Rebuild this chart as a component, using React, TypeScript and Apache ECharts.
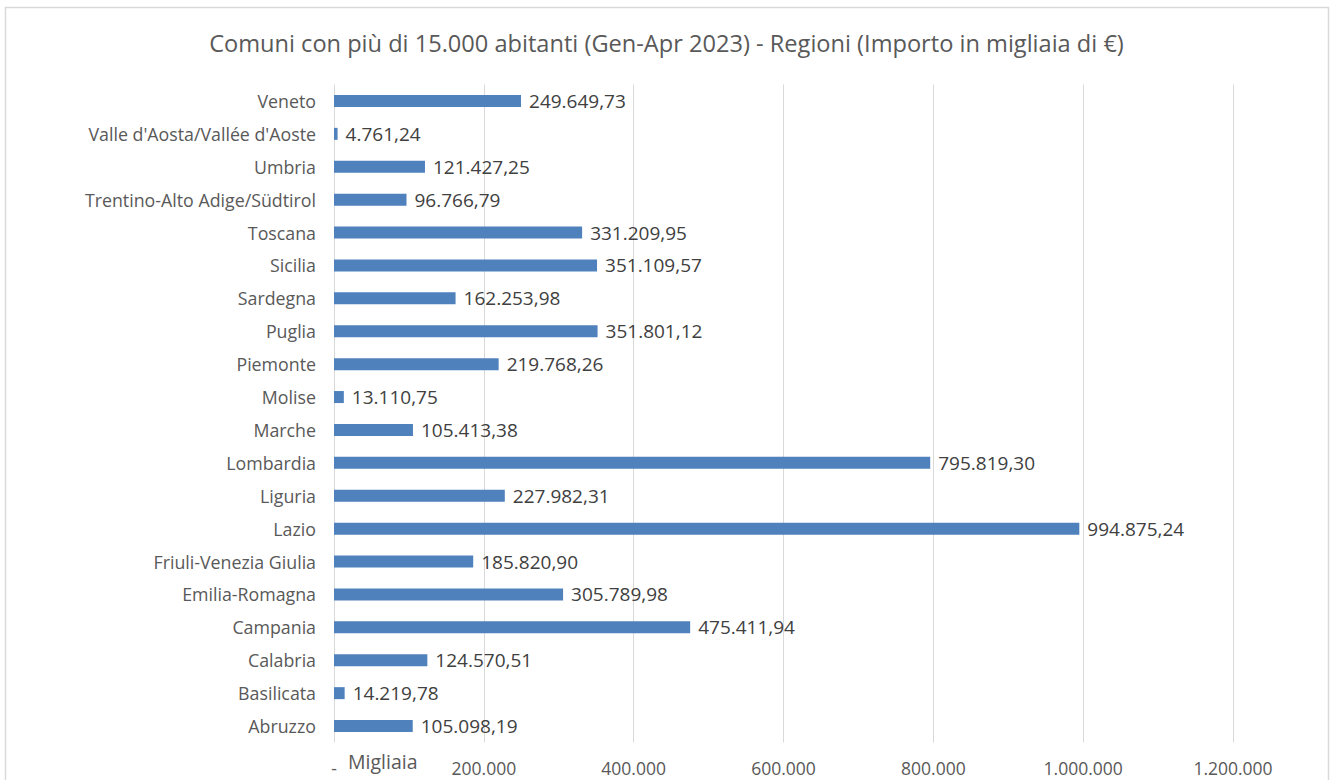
import React, { useEffect, useRef } from "react";
import * as echarts from "echarts";

const categories = [
  "Abruzzo",
  "Basilicata",
  "Calabria",
  "Campania",
  "Emilia-Romagna",
  "Friuli-Venezia Giulia",
  "Lazio",
  "Liguria",
  "Lombardia",
  "Marche",
  "Molise",
  "Piemonte",
  "Puglia",
  "Sardegna",
  "Sicilia",
  "Toscana",
  "Trentino-Alto Adige/Südtirol",
  "Umbria",
  "Valle d'Aosta/Vallée d'Aoste",
  "Veneto",
];

const values = [
  105098.19, 14219.78, 124570.51, 475411.94, 305789.98, 185820.9, 994875.24,
  227982.31, 795819.3, 105413.38, 13110.75, 219768.26, 351801.12, 162253.98,
  351109.57, 331209.95, 96766.79, 121427.25, 4761.24, 249649.73,
];

const titleText =
  "Comuni con più di 15.000 abitanti (Gen-Apr 2023) - Regioni (Importo in migliaia di €)";
const axisUnitText = "Migliaia";

const FONT = "'Open Sans', 'Noto Sans', sans-serif";

function fmtIt(v: number, decimals: number): string {
  const fixed = v.toFixed(decimals);
  const [intPart, decPart] = fixed.split(".");
  const withSep = intPart.replace(/\B(?=(\d{3})+(?!\d))/g, ".");
  return decPart ? withSep + "," + decPart : withSep;
}

export default function App() {
  const ref = useRef<HTMLDivElement>(null);
  useEffect(() => {
    if (!ref.current) return;
    const chart = echarts.init(ref.current, undefined, { renderer: "svg" });
    chart.setOption({
      animation: false,
      backgroundColor: "#ffffff",
      title: {
        text: titleText,
        left: "center",
        top: 26,
        textStyle: {
          fontFamily: FONT,
          fontSize: 23.6,
          fontWeight: "normal",
          color: "#595959",
        },
      },
      grid: {
        left: 334,
        right: 100,
        top: 84.5,
        bottom: 37.5,
        containLabel: false,
      },
      xAxis: {
        type: "value",
        min: 0,
        max: 1200000,
        interval: 200000,
        axisLine: { show: false },
        axisTick: { show: false },
        splitLine: { show: true, lineStyle: { color: "#d9d9d9", width: 1 } },
        axisLabel: {
          margin: 16,
          fontFamily: FONT,
          fontSize: 17.5,
          color: "#595959",
          formatter: (v: number) => (v === 0 ? "-" : fmtIt(v, 0)),
        },
      },
      yAxis: {
        type: "category",
        data: categories,
        axisLine: { show: false },
        axisTick: { show: false },
        splitLine: { show: false },
        axisLabel: {
          margin: 18,
          fontFamily: FONT,
          fontSize: 17.8,
          color: "#595959",
        },
      },
      series: [
        {
          type: "bar",
          data: values,
          barWidth: 12,
          itemStyle: { color: "#4f81bd" },
          label: {
            show: true,
            position: "right",
            distance: 8,
            fontFamily: FONT,
            fontSize: 19,
            color: "#404040",
            formatter: (p: any) => fmtIt(p.value, 2),
          },
        },
      ],
      graphic: [
        {
          type: "rect",
          shape: { x: 5.5, y: 7.5, width: 1323, height: 800 },
          style: { fill: "none", stroke: "#d9d9d9", lineWidth: 1.5 },
          silent: true,
        },
        {
          type: "text",
          x: 348,
          y: 761,
          style: {
            text: axisUnitText,
            fontFamily: FONT,
            fontSize: 19.5,
            fill: "#595959",
            verticalAlign: "middle",
          },
          silent: true,
        },
      ],
    });
    return () => chart.dispose();
  }, []);
  return (
    <div
      ref={ref}
      style={{ position: "fixed", left: 0, top: 0, width: 1333, height: 780 }}
    />
  );
}
